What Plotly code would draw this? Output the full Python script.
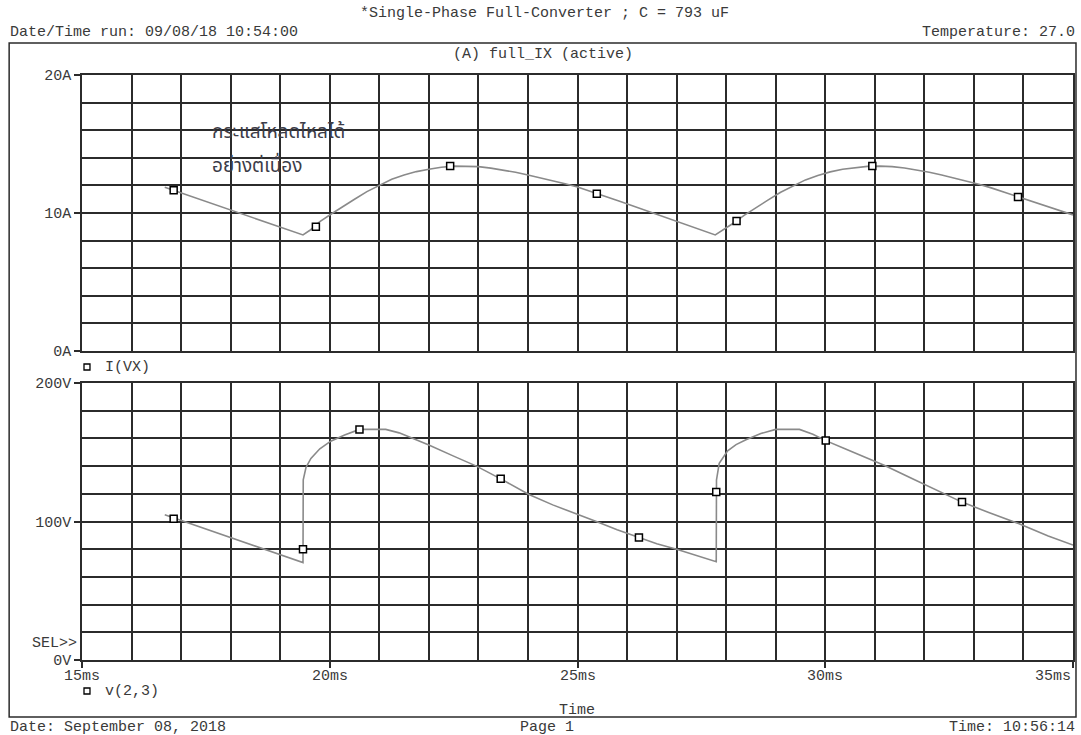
import plotly.graph_objects as go

# ---------------- data ----------------
cur_t = [16.67, 19.46, 19.6, 19.8, 20.03, 20.25, 20.5, 20.75, 21.0, 21.25, 21.5, 21.75,
         22.0, 22.25, 22.5, 22.75, 23.0, 23.25, 23.5, 23.75, 24.0, 24.25, 24.5, 24.75,
         25.0, 25.39, 25.85, 27.78, 27.92, 28.12, 28.37, 28.6, 28.85, 29.1, 29.35, 29.6,
         29.85, 30.1, 30.35, 30.6, 30.85, 31.1, 31.35, 31.6, 31.85, 32.1, 32.35, 32.6,
         32.85, 33.1, 33.35, 33.89, 35.0]
cur_a = [11.86, 8.41, 8.75, 9.37, 9.93, 10.45, 11.0, 11.55, 12.03, 12.45, 12.75, 13.0,
         13.17, 13.32, 13.4, 13.4, 13.36, 13.25, 13.12, 12.95, 12.75, 12.55, 12.35, 12.12,
         11.88, 11.4, 10.85, 8.41, 8.72, 9.2, 9.85, 10.4, 10.95, 11.5, 11.98, 12.4,
         12.72, 12.98, 13.17, 13.3, 13.38, 13.4, 13.36, 13.26, 13.12, 12.95, 12.76, 12.55,
         12.32, 12.08, 11.82, 11.16, 9.86]
cur_mark_t = [16.85, 19.72, 22.43, 25.39, 28.21, 30.95, 33.89]
cur_mark_a = [11.65, 9.0, 13.4, 11.4, 9.42, 13.4, 11.16]

volt_t = [16.67, 19.46, 19.465, 19.52, 19.62, 19.8, 20.02, 20.3, 20.6, 21.13, 21.4, 21.68,
          22.0, 22.5, 22.96, 23.45, 24.02, 24.5, 25.0, 25.38, 25.8, 26.24, 26.6, 27.0,
          27.4, 27.8, 27.805, 27.86, 28.03, 28.2, 28.4, 28.7, 29.0, 29.48, 29.75, 30.01,
          30.35, 30.69, 31.2, 31.75, 32.3, 32.76, 33.3, 33.9, 34.5, 35.0]
volt_v = [104.8, 70.3, 130.0, 139.0, 145.5, 152.5, 158.0, 162.5, 166.5, 166.5, 164.0, 160.0,
          155.2, 147.2, 140.0, 130.8, 119.5, 112.0, 105.5, 100.0, 94.0, 88.5, 84.0, 80.0,
          75.5, 71.0, 130.0, 142.0, 151.0, 155.5, 159.0, 163.5, 166.5, 166.5, 163.0, 158.4,
          153.3, 148.4, 140.5, 131.0, 122.0, 114.0, 106.5, 98.5, 89.5, 83.0]
volt_mark_t = [16.85, 19.46, 20.6, 23.45, 26.24, 27.8, 30.01, 32.76]
volt_mark_v = [102.0, 80.0, 166.5, 130.8, 88.5, 121.3, 158.4, 114.0]

x_tick_vals = [15, 20, 25, 30, 35]
x_tick_text = ["15ms", "20ms", "25ms", "30ms", "35ms"]
ya_tick_vals = [0, 10, 20]
ya_tick_text = ["0A", "10A", "20A"]
yv_tick_vals = [0, 100, 200]
yv_tick_text = ["0V", "100V", "200V"]

title_text = "*Single-Phase Full-Converter ; C = 793 uF"
run_text = "Date/Time run: 09/08/18 10:54:00"
temp_text = "Temperature: 27.0"
plot_title = "(A) full_IX (active)"
legend_i = "I(VX)"
legend_v = "v(2,3)"
note_lines = ["กระแสโหลดไหลได้", "อย่างต่เนื่อง"]
foot_left = "Date: September 08, 2018"
foot_mid = "Page 1"
foot_right = "Time: 10:56:14"

# ---------------- layout helpers ----------------
W, H = 1081, 735
L, R, T, B = 82, 1075, 75, 660
def px(x):
    return (x - L) / (R - L)
def py(y):
    return (B - y) / (B - T)

MONO = "Liberation Mono, Courier New, monospace"
TXT = "#3a3a3a"
GRID = "#2b2b2b"
LINE = "#8a8a8a"

fig = go.Figure()
fig.add_trace(go.Scatter(x=cur_t, y=cur_a, mode="lines", xaxis="x", yaxis="y",
                         line=dict(color=LINE, width=1.6), showlegend=False, hoverinfo="skip"))
fig.add_trace(go.Scatter(x=cur_mark_t, y=cur_mark_a, mode="markers", xaxis="x", yaxis="y",
                         marker=dict(symbol="square", size=7, color="white",
                                     line=dict(color="black", width=1.5)), showlegend=False))
fig.add_trace(go.Scatter(x=volt_t, y=volt_v, mode="lines", xaxis="x2", yaxis="y2",
                         line=dict(color=LINE, width=1.6), showlegend=False, hoverinfo="skip"))
fig.add_trace(go.Scatter(x=volt_mark_t, y=volt_mark_v, mode="markers", xaxis="x2", yaxis="y2",
                         marker=dict(symbol="square", size=7, color="white",
                                     line=dict(color="black", width=1.5)), showlegend=False))

top_dom = [py(351), 1.0]
bot_dom = [0.0, py(383)]

common_axis = dict(showline=True, mirror=True, linecolor=GRID, linewidth=1.5,
                   showgrid=True, gridcolor=GRID, gridwidth=1.5, zeroline=False,
                   tickfont=dict(family=MONO, size=15, color=TXT), tickcolor=GRID,
                   tickwidth=1.5, fixedrange=True)

fig.update_layout(
    width=W, height=H, paper_bgcolor="white", plot_bgcolor="white",
    margin=dict(l=L, r=W - R, t=T, b=H - B),
    xaxis=dict(common_axis, domain=[0, 1], anchor="y", range=[15, 35],
               tickmode="array", tickvals=x_tick_vals, showticklabels=False, ticks="",
               minor=dict(tickmode="linear", tick0=15, dtick=1, showgrid=True,
                          gridcolor=GRID, gridwidth=1.5, ticks="")),
    yaxis=dict(common_axis, domain=top_dom, anchor="x", range=[0, 20],
               tickmode="array", tickvals=ya_tick_vals, ticktext=ya_tick_text,
               ticks="outside", ticklen=6,
               minor=dict(tickmode="linear", tick0=0, dtick=2, showgrid=True,
                          gridcolor=GRID, gridwidth=1.5, ticks="")),
    xaxis2=dict(common_axis, domain=[0, 1], anchor="y2", range=[15, 35],
                tickmode="array", tickvals=x_tick_vals, showticklabels=False,
                ticks="outside", ticklen=6,
                minor=dict(tickmode="linear", tick0=15, dtick=1, showgrid=True,
                           gridcolor=GRID, gridwidth=1.5, ticks="")),
    yaxis2=dict(common_axis, domain=bot_dom, anchor="x2", range=[0, 200],
                tickmode="array", tickvals=yv_tick_vals, ticktext=yv_tick_text,
                ticks="outside", ticklen=6,
                minor=dict(tickmode="linear", tick0=0, dtick=20, showgrid=True,
                           gridcolor=GRID, gridwidth=1.5, ticks="")),
)

ann = []
def text(s, x, y, xa="left", size=15, color=TXT, family=MONO):
    ann.append(dict(text=s, x=px(x), y=py(y), xref="paper", yref="paper",
                    xanchor=xa, yanchor="middle", showarrow=False,
                    font=dict(family=family, size=size, color=color)))

text(title_text, 545, 14, "center")
text(run_text, 8, 32, "left")
text(temp_text, 1079, 32, "right")
text(plot_title, 544, 55, "center")
text(legend_i, 103, 367, "left")
text("SEL>>", 79, 643, "right")
text(legend_v, 103, 691, "left")
text("Time", 578, 710, "center")
text(foot_left, 8, 727, "left")
text(foot_mid, 548, 727, "center")
text(foot_right, 1079, 727, "right")

# x tick labels under the lower plot (last one right-aligned as in the reference)
for v, s in zip(x_tick_vals, x_tick_text):
    xa = "right" if v == x_tick_vals[-1] else "center"
    ann.append(dict(text=s, x=v, y=py(676), xref="x2", yref="paper",
                    xanchor=xa, yanchor="middle", showarrow=False,
                    font=dict(family=MONO, size=15, color=TXT)))

THAI = "Noto Sans Thai, Noto Sans Thai UI, Tahoma, Loma, Garuda, Norasi, sans-serif"
text(note_lines[0], 210, 132, "left", size=19, color="#3c3c48", family=THAI)
text(note_lines[1], 210, 166, "left", size=19, color="#3c3c48", family=THAI)

fig.update_layout(annotations=ann)

shapes = [
    # outer page frame
    dict(type="rect", xref="paper", yref="paper", x0=px(9), x1=px(1078), y0=py(43), y1=py(717),
         line=dict(color=GRID, width=1.5)),
    # legend markers
    dict(type="rect", xref="paper", yref="paper", x0=px(84), x1=px(90), y0=py(364), y1=py(370),
         line=dict(color="black", width=1.3)),
    dict(type="rect", xref="paper", yref="paper", x0=px(84), x1=px(90), y0=py(688), y1=py(694),
         line=dict(color="black", width=1.3)),
]
fig.update_layout(shapes=shapes)

fig.write_html("out.html", config={"displayModeBar": False},
               post_script="document.body.style.margin='0';document.body.style.overflow='hidden';")
